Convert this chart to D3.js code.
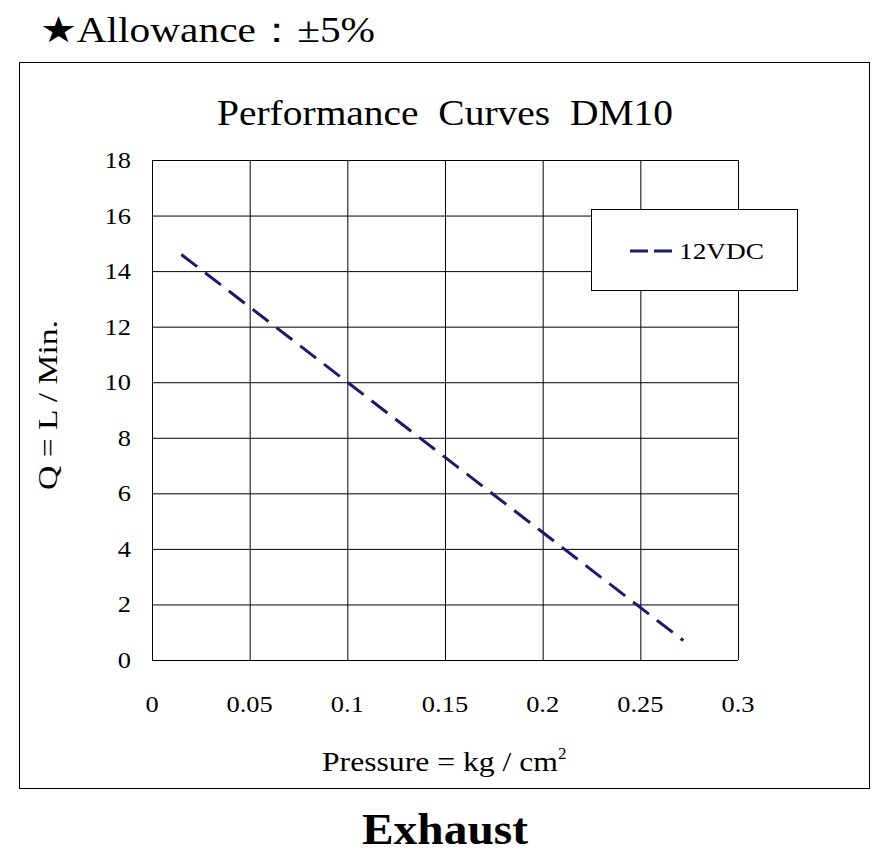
<!DOCTYPE html>
<html><head><meta charset="utf-8">
<script src="https://cdn.jsdelivr.net/npm/d3@7"></script>
<style>body{margin:0;background:#fff}text{font-family:"Liberation Serif","Times New Roman",serif}</style>
</head><body><svg id="c" width="880" height="858"></svg>
<script>
const xTicks=[0,0.05,0.1,0.15,0.2,0.25,0.3];
const yTicks=[0,2,4,6,8,10,12,14,16,18];
const seriesName="12VDC";
const pressure=[0.015,0.272];
const flow=[14.6,0.7];

const svg=d3.select("#c");
const x=d3.scaleLinear().domain([0,0.3]).range([152,738]);
const y=d3.scaleLinear().domain([0,18]).range([660,160]);
const stretch=(t,w)=>t.attr("textLength",w).attr("lengthAdjust","spacingAndGlyphs");

stretch(svg.append("text").attr("x",40).attr("y",42).attr("font-size",36).text("★Allowance：±5%"),335);
svg.append("rect").attr("x",19.5).attr("y",62.5).attr("width",850).attr("height",726).attr("fill","none").attr("stroke","#000");
stretch(svg.append("text").attr("x",217).attr("y",125).attr("font-size",35).attr("xml:space","preserve").text("Performance  Curves  DM10"),456);

const g=svg.append("g");
g.selectAll(".h").data(yTicks).join("line").attr("x1",x(0)).attr("x2",x(0.3)).attr("y1",d=>y(d)+.5).attr("y2",d=>y(d)+.5).attr("stroke","#000");
g.selectAll(".v").data(xTicks).join("line").attr("y1",y(0)).attr("y2",y(18)).attr("x1",d=>x(d)+.5).attr("x2",d=>x(d)+.5).attr("stroke","#000");
g.selectAll(".yl").data(yTicks).join("text").attr("x",131).attr("y",d=>y(d)+8).attr("text-anchor","end").attr("font-size",23).attr("transform",d=>`translate(${131*-0.15},0) scale(1.15,1)`).text(d=>d);
g.selectAll(".xl").data(xTicks).join("text").attr("x",d=>x(d)/1.15).attr("y",712).attr("text-anchor","middle").attr("font-size",23).attr("transform","scale(1.15,1)").text(d=>d);

svg.append("path").datum(pressure.map((p,i)=>[p,flow[i]])).attr("d",d3.line().x(d=>x(d[0])).y(d=>y(d[1])))
 .attr("stroke","#1a1a6e").attr("stroke-width",3).attr("fill","none").attr("stroke-dasharray","20,10");

svg.append("rect").attr("x",591.5).attr("y",209.5).attr("width",206).attr("height",81).attr("fill","#fff").attr("stroke","#000");
svg.append("line").attr("x1",630).attr("x2",672).attr("y1",251).attr("y2",251).attr("stroke","#1a1a6e").attr("stroke-width",3).attr("stroke-dasharray","18,6");
stretch(svg.append("text").attr("x",679).attr("y",259).attr("font-size",23).text(seriesName),85);

stretch(svg.append("text").attr("transform","translate(57,405) rotate(-90)").attr("text-anchor","middle").attr("font-size",27).text("Q = L / Min."),170);
const xt=svg.append("text").attr("x",322).attr("y",771).attr("font-size",27);
xt.append("tspan").attr("textLength",236).attr("lengthAdjust","spacingAndGlyphs").text("Pressure = kg / cm");
xt.append("tspan").attr("dy",-12).attr("font-size",17).text("2");
stretch(svg.append("text").attr("x",362).attr("y",844).attr("font-size",44).attr("font-weight","bold").text("Exhaust"),166);
</script></body></html>
